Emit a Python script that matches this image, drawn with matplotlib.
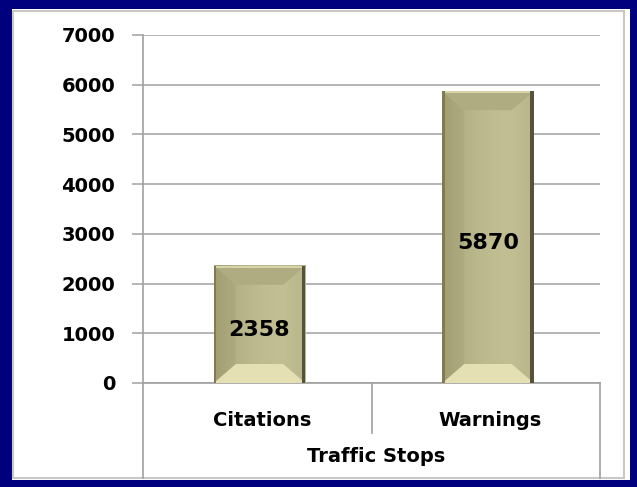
import numpy as np
import matplotlib
matplotlib.use("Agg")
import matplotlib.pyplot as plt
from matplotlib.patches import Rectangle, Polygon
from matplotlib.colors import LinearSegmentedColormap
import matplotlib.transforms as mtransforms

categories = ["Citations", "Warnings"]
values = [2358, 5870]
yticks = [0, 1000, 2000, 3000, 4000, 5000, 6000, 7000]
axis_title = "Traffic Stops"

W, H = 637, 487
fig = plt.figure(figsize=(W / 100, H / 100), dpi=100)
fig.patch.set_facecolor("#00007f")

# white chart area with light grey frame
fig.patches.append(Rectangle((12 / W, 1 - 480 / H), 618 / W, 471 / H,
                             transform=fig.transFigure, facecolor="white",
                             edgecolor="none", zorder=-3))
fig.patches.append(Rectangle((13 / W, 1 - 478 / H), 611 / W, 467 / H,
                             transform=fig.transFigure, facecolor="none",
                             edgecolor="#c8c8c8", linewidth=1.5, zorder=-2))

ax = fig.add_axes([143 / W, 104 / H, 457 / W, 348 / H])
ax.set_facecolor("none")

x = np.arange(len(categories))
bw = 0.4
bars = ax.bar(x + 0.01, values, width=bw, color="#b8b48a", edgecolor="none", zorder=2)

# pixel sizes in data units
px_x = len(categories) / 457
px_y = 7000 / 348
dx = 22 * px_x
dy = 19 * px_y

face = LinearSegmentedColormap.from_list(
    "face", ["#a6a276", "#b6b288", "#bfbb91", "#c3bf95", "#b9b58b"])
grad = np.linspace(0, 1, 100).reshape(1, -1)

for b in bars:
    x0 = b.get_x()
    x1 = x0 + b.get_width()
    h = b.get_height()
    ax.imshow(grad, cmap=face, extent=(x0, x1, 0, h), aspect="auto",
              zorder=3, interpolation="bilinear")
    bottom = [(x0, 0), (x1, 0), (x1 - dx, dy), (x0 + dx, dy)]
    top = [(x0, h), (x1, h), (x1 - dx, h - dy), (x0 + dx, h - dy)]
    left = [(x0, 0), (x0 + dx, dy), (x0 + dx, h - dy), (x0, h)]
    ax.add_patch(Polygon(left, closed=True, facecolor="#8f8b60", alpha=0.15,
                         edgecolor="none", zorder=4))
    ax.add_patch(Polygon(top, closed=True, facecolor="#b0ac81",
                         edgecolor="none", zorder=4))
    ax.add_patch(Polygon(bottom, closed=True, facecolor="#e4e0b3",
                         edgecolor="none", zorder=4))
    # light rim along the top and dark side edges
    ax.add_patch(Rectangle((x0, h - 2 * px_y), x1 - x0, 2 * px_y, facecolor="#d8d4a8",
                           edgecolor="none", zorder=5))
    ax.add_patch(Rectangle((x1 - 3.5 * px_x, 0), 3.5 * px_x, h, facecolor="#55533a",
                           edgecolor="none", zorder=5))
    ax.add_patch(Rectangle((x0, 0), 2.5 * px_x, h, facecolor="#7f7b55",
                           edgecolor="none", zorder=5))
    ax.annotate(f"{h:.0f}", (b.get_x() + b.get_width() / 2, h / 2),
                xytext=(0, -4), textcoords="offset points", ha="center", va="center",
                fontsize=16, fontweight="bold", color="black", zorder=6)

ax.set_xlim(-0.5, len(categories) - 0.5)
ax.set_ylim(0, 7000)

ax.set_yticks(yticks)
ax.set_yticklabels([str(t) for t in yticks])
ax.grid(axis="y", color="#a8a8a8", linewidth=1.2, zorder=1)
ax.set_axisbelow(True)
ax.tick_params(axis="y", length=8, width=1.2, color="#a8a8a8", pad=12,
               labelsize=14)
for lab in ax.get_yticklabels():
    lab.set_fontweight("bold")
ax.set_xticks([])

for s in ["top", "right"]:
    ax.spines[s].set_visible(False)
ax.spines["left"].set_color("#a0a0a0")
ax.spines["bottom"].set_color("#a0a0a0")
ax.spines["left"].set_linewidth(1.2)
ax.spines["bottom"].set_linewidth(1.2)

# category separators below the axis
trans = mtransforms.blended_transform_factory(ax.transData, ax.transAxes)
bounds = np.arange(len(categories) + 1) - 0.5
for i, bx in enumerate(bounds):
    depth = 95 / 348 if i in (0, len(bounds) - 1) else 50 / 348
    ax.plot([bx, bx], [0, -depth], transform=trans, color="#a0a0a0",
            linewidth=1.2, clip_on=False)

for xi, name in zip(x, categories):
    ax.text(xi + 0.02, -38 / 348, name, transform=trans, ha="center", va="center",
            fontsize=14, fontweight="bold")
ax.text(0.51, -74 / 348, axis_title, transform=ax.transAxes, ha="center", va="center",
        fontsize=14, fontweight="bold")

fig.savefig("out.png", dpi=100, facecolor=fig.get_facecolor())
